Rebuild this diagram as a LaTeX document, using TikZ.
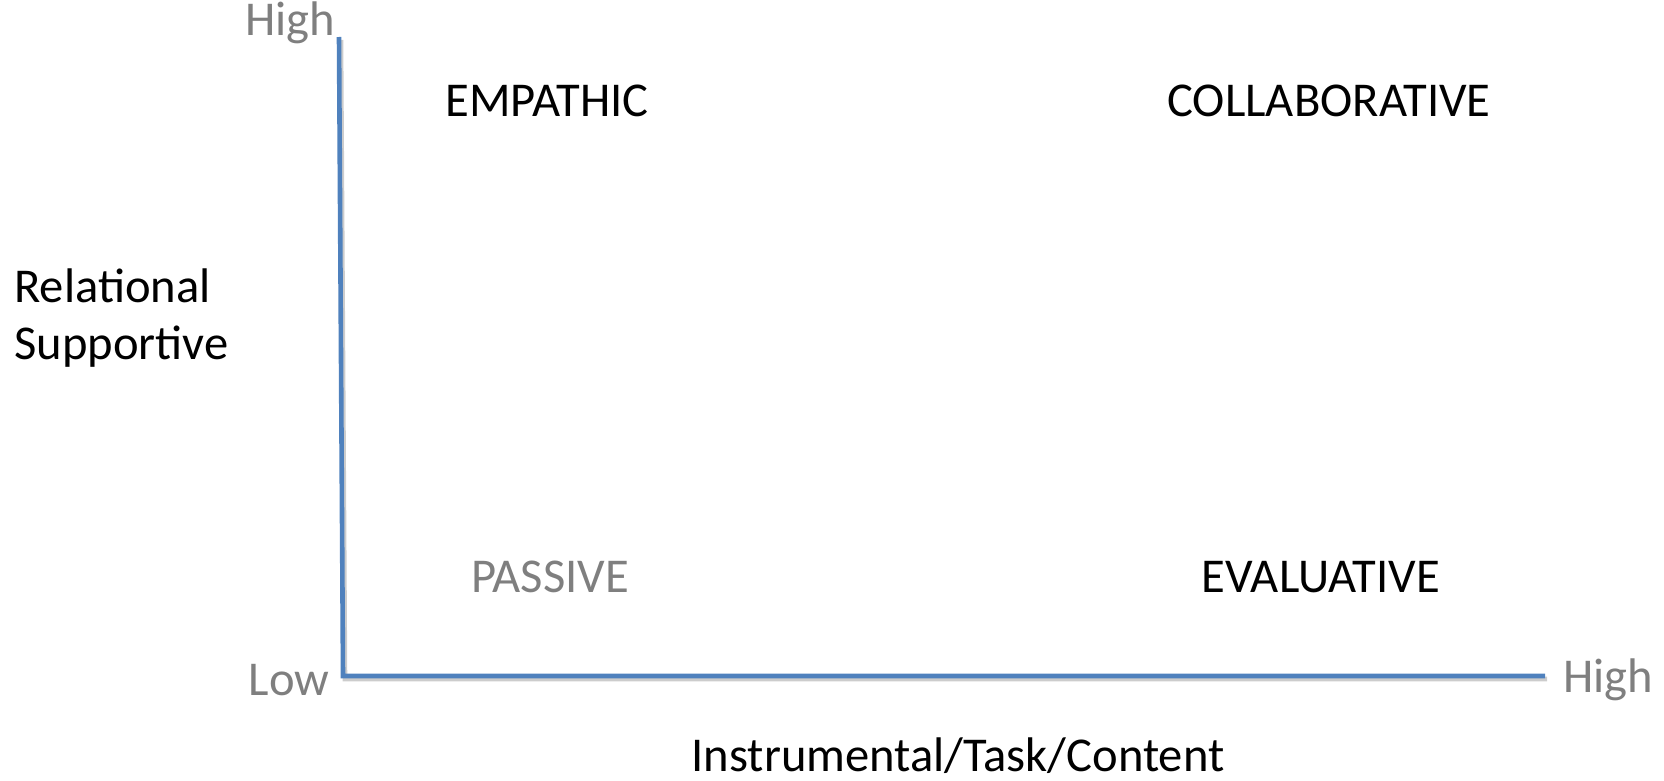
\documentclass[tikz,border=0pt]{standalone}
\usepackage{fontspec}
\setmainfont{Carlito}
\usetikzlibrary{positioning}
\definecolor{axisblue}{HTML}{4F81BD}
\definecolor{lowgray}{HTML}{7F7F7F}

\begin{document}
\begin{tikzpicture}
    [x = 0.5pt, y = -0.5pt, font = \fontsize{24.3}{28.5}\selectfont,
     quad/.style = {text = black, inner sep = 0pt},
     level/.style = {text = lowgray, inner sep = 0pt},
     axis/.style = {draw = axisblue, line width = 2.3pt, line join = miter}]
\useasboundingbox (0,0) rectangle (1664,781);

\coordinate (top) at (339,37);
\coordinate (origin) at (343,676);
\coordinate (right) at (1545,676);

% axes with a faint shadow
\draw[black!20, line width = 2.3pt] ([shift = {(2,3)}]top) -- ([shift = {(2,3)}]origin) -- ([shift = {(2,3)}]right);
\draw[axis] (top) -- (origin) -- (right);

\node[level](hi y) at (290,23){High};
\node[level](lo)   at (289,680){Low};
\node[level](hi x) at (1608,680){High};

\node[quad](emp)  at (547,101){EMPATHIC};
\node[quad](col)  at (1329,101){COLLABORATIVE};
\node[level](pas) at (550,577){PASSIVE};
\node[quad](eva)  at (1321,577){EVALUATIVE};

\node[quad, align = left, anchor = west](ylab) at (14,318){Relational\\Supportive};
\node[quad](xlab) at (958,756){Instrumental/Task/Content};
\end{tikzpicture}
\end{document}
